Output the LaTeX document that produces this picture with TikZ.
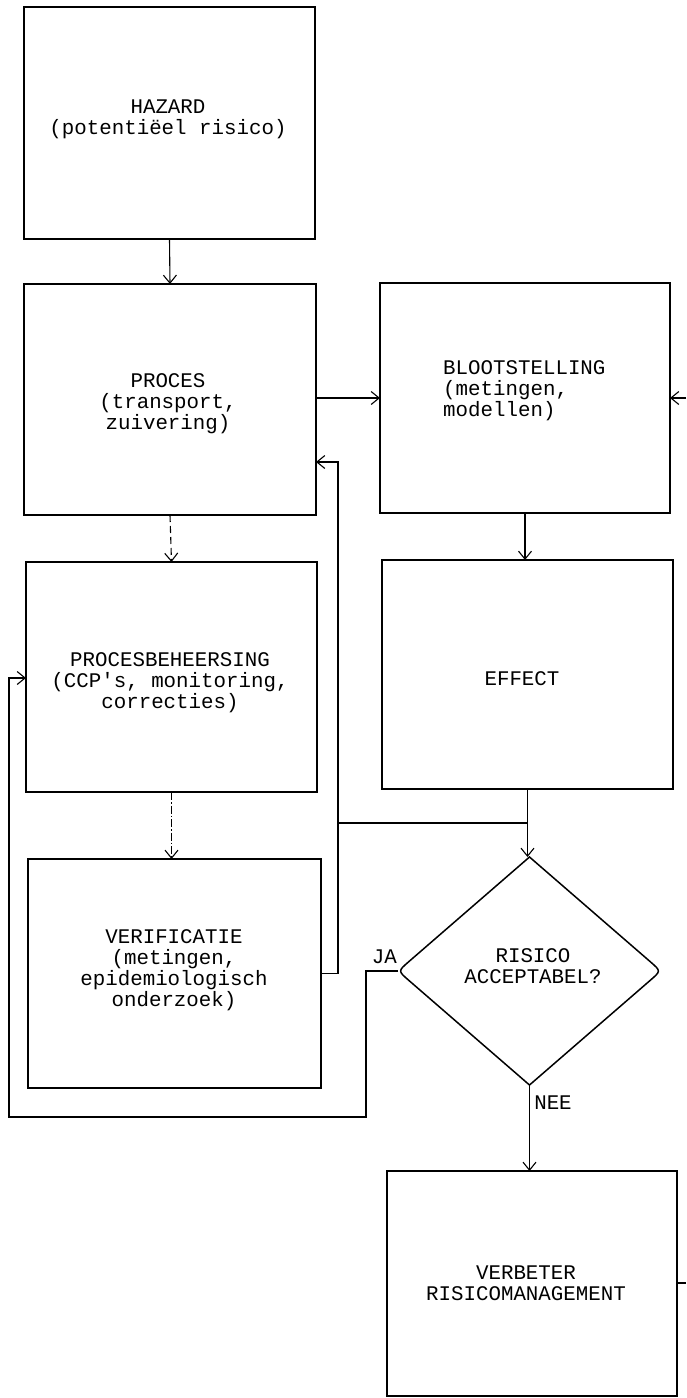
\documentclass[tikz,border=0pt]{standalone}
\usepackage{fontspec}
\setmonofont{Liberation Mono}
\usetikzlibrary{arrows.meta,shapes.geometric,calc}

\begin{document}
\begin{tikzpicture}[x=1pt,y=-1pt,
  txt/.style={font=\ttfamily\fontsize{20.8}{21}\selectfont, text=black},
  box/.style={draw, line width=1.5pt, rectangle, inner sep=0pt, outer sep=0pt},
  line/.style={line width=1.1pt},
  arr/.style={line, -{Straight Barb[length=8pt,width=13pt,line width=1.1pt]}},
  dashedarr/.style={arr, dash pattern=on 7pt off 4pt},
  dotdasharr/.style={arr, dash pattern=on 8pt off 2pt on 1.5pt off 2pt},
  lbl/.style={txt, inner sep=0pt, align=center}
]
\useasboundingbox (0,0) rectangle (686,1398);

% process chain (left column)
\node[box, minimum width=291pt, minimum height=232pt] (hazard) at (169.5,123) {};
\node[box, minimum width=292pt, minimum height=231pt] (proces) at (170,399.5) {};
\node[box, minimum width=291pt, minimum height=230pt] (pbh) at (171.5,677) {};
\node[box, minimum width=293pt, minimum height=229pt] (verif) at (174.5,973.5) {};

% risk chain (right column)
\node[box, minimum width=290pt, minimum height=230pt] (bloot) at (525,398) {};
\node[box, minimum width=291pt, minimum height=229pt] (effect) at (527.5,674.5) {};
\node[box, minimum width=290pt, minimum height=225pt] (verbeter) at (532,1283.5) {};

% box texts
\node[lbl] (hazardlbl) at (168,119) {HAZARD\\(potentiëel risico)};
\node[lbl] (proceslbl) at (168,404) {PROCES\\(transport,\\zuivering)};
\node[lbl] (pbhlbl) at (170,683) {PROCESBEHEERSING\\(CCP's, monitoring,\\correcties)};
\node[lbl] (veriflbl) at (174,970) {VERIFICATIE\\(metingen,\\epidemiologisch\\onderzoek)};
\node[lbl, align=left, anchor=north west] (blootlbl) at (443,360)
  {BLOOTSTELLING\\(metingen,\\modellen)};
\node[lbl] (effectlbl) at (522,679) {EFFECT};
\node[lbl] (verbeterlbl) at (526,1283) {VERBETER\\RISICOMANAGEMENT};

% decision
\node[diamond, minimum width=263pt, minimum height=228pt, inner sep=0pt,
  outer sep=0pt] (d) at (529.5,971) {};
\draw[line width=1.5pt]
  (d.north) -- ($(d.west)!14pt!(d.north)$) .. controls (d.west) .. ($(d.west)!14pt!(d.south)$)
  -- (d.south) -- ($(d.east)!14pt!(d.south)$) .. controls (d.east) .. ($(d.east)!14pt!(d.north)$)
  -- cycle;
\node[lbl] (dlbl) at (533,966) {RISICO\\ACCEPTABEL?};

% helper points for routed connectors
\coordinate (rin) at (686,398);
\coordinate (rout) at (686,1283);
\coordinate (bus) at (338,823);
\coordinate (fbtop) at (338,462);
\coordinate (ja1) at (366,1117);
\coordinate (ja2) at (9,678);

% connectors
\draw[arr] (hazard.south) -- (proces.north);
\draw[arr] (proces.east |- bloot.west) -- (bloot.west);
\draw[arr] (rin) -- (bloot.east |- rin);
\draw[dashedarr] (proces.south) -- (pbh.north);
\draw[dotdasharr] (pbh.south) -- (pbh.south |- verif.north);
\draw[arr] (bloot.south) -- (bloot.south |- effect.north);
\draw[arr] (effect.south) -- (effect.south |- d.north);
\draw[line] (effect.south |- bus) -- (bus);
\draw[arr] (verif.east) -| (fbtop) -- (proces.east |- fbtop);
\draw[arr] (d.west) -| (ja1) -| (ja2) -- (pbh.west |- ja2);
\draw[arr] (d.south) -- (d.south |- verbeter.north);
\draw[line] (verbeter.east |- rout) -- (rout);

% branch labels
\node[lbl, anchor=east] (ja) at (397,957) {JA};
\node[lbl] (nee) at (553,1103) {NEE};
\end{tikzpicture}
\end{document}
